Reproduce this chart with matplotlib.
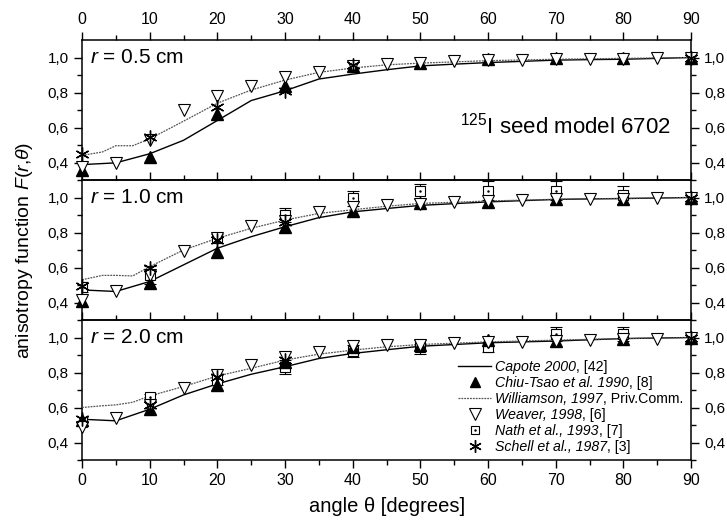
import numpy as np
import matplotlib
matplotlib.use("Agg")
import matplotlib.pyplot as plt
from matplotlib.lines import Line2D
from matplotlib.ticker import FixedLocator, MultipleLocator, FuncFormatter

plt.rcParams['font.family'] = ['Liberation Sans', 'DejaVu Sans']
plt.rcParams['mathtext.fontset'] = 'custom'
plt.rcParams['mathtext.rm'] = 'Liberation Sans'
plt.rcParams['mathtext.it'] = 'Liberation Sans:italic'

# radial distances of the three panels
radii = ["0.5", "1.0", "2.0"]

# Capote 2000 (solid line)
capote_theta = [0, 5, 10, 15, 20, 25, 30, 35, 40, 45, 50, 55, 60, 65, 70, 75, 80, 85, 90]
capote_05 = [0.388, 0.398, 0.45, 0.527, 0.64, 0.754, 0.81, 0.877, 0.905, 0.93, 0.952, 0.962,
             0.971, 0.978, 0.985, 0.988, 0.99, 0.995, 1.0]
capote_10 = [0.472, 0.463, 0.52, 0.615, 0.71, 0.776, 0.833, 0.885, 0.918, 0.937, 0.955, 0.965,
             0.975, 0.982, 0.989, 0.992, 0.994, 0.997, 1.0]
capote_20 = [0.533, 0.524, 0.59, 0.672, 0.735, 0.79, 0.833, 0.88, 0.909, 0.93, 0.95, 0.96,
             0.97, 0.975, 0.98, 0.987, 0.994, 0.997, 1.0]

# Williamson 1997 (dotted line)
will_theta = [0, 3, 5, 7.5, 10, 15, 20, 25, 30, 35, 40, 45, 50, 60, 70, 80, 90]
will_05 = [0.441, 0.46, 0.496, 0.496, 0.535, 0.636, 0.739, 0.814, 0.871, 0.915, 0.94, 0.958,
           0.968, 0.982, 0.99, 0.995, 1.0]
will_10 = [0.53, 0.555, 0.555, 0.552, 0.605, 0.70, 0.767, 0.824, 0.871, 0.909, 0.93, 0.95,
           0.966, 0.98, 0.99, 0.995, 1.0]
will_20 = [0.60, 0.61, 0.615, 0.63, 0.666, 0.72, 0.78, 0.824, 0.871, 0.905, 0.928, 0.947,
           0.96, 0.975, 0.985, 0.994, 1.0]

# Chiu-Tsao et al. 1990 (filled triangles)
chiu_theta = [0, 10, 20, 30, 40, 50, 60, 70, 80, 90]
chiu_05 = [0.356, 0.43, 0.68, 0.84, 0.95, 0.97, 0.99, 0.995, 0.995, 1.0]
chiu_10 = [0.41, 0.51, 0.69, 0.833, 0.924, 0.966, 0.975, 0.994, 0.99, 1.0]
chiu_20 = [0.53, 0.59, 0.73, 0.86, 0.947, 0.96, 0.985, 0.98, 0.99, 1.0]

# Weaver 1998 (open down triangles)
weaver_theta = [0, 5, 10, 15, 20, 25, 30, 35, 40, 45, 50, 55, 60, 65, 70, 75, 80, 85, 90]
weaver_05 = [0.375, 0.40, 0.527, 0.70, 0.78, 0.84, 0.886, 0.92, 0.953, 0.962, 0.97, 0.98,
             0.985, 0.987, 0.99, 0.99, 0.99, 0.995, 1.0]
weaver_10 = [0.416, 0.467, 0.56, 0.696, 0.767, 0.837, 0.865, 0.918, 0.947, 0.955, 0.962, 0.975,
             0.98, 0.985, 0.99, 0.992, 0.994, 0.995, 1.0]
weaver_20 = [0.488, 0.54, 0.615, 0.71, 0.786, 0.842, 0.886, 0.918, 0.95, 0.956, 0.956, 0.97,
             0.975, 0.975, 0.98, 0.985, 0.994, 0.994, 1.0]

# Nath et al. 1993 (open squares with error bars), no data at 0.5 cm
nath_theta = [0, 10, 20, 30, 40, 50, 60, 70, 80]
nath_10 = [0.488, 0.558, 0.767, 0.90, 0.995, 1.035, 1.04, 1.04, 1.015]
nath_10_err = [0.03, 0.05, 0.025, 0.04, 0.045, 0.045, 0.055, 0.055, 0.05]
nath_20 = [0.52, 0.658, 0.757, 0.833, 0.925, 0.945, 0.945, 1.02, 1.02]
nath_20_err = [0.025, 0.02, 0.03, 0.04, 0.035, 0.04, 0.03, 0.04, 0.04]

# Schell et al. 1987 (asterisks)
schell_theta = [0, 10, 20, 30, 40, 90]
schell_05 = [0.447, 0.545, 0.72, 0.81, 0.956, 1.0]
schell_theta_b = [0, 10, 20, 30, 90]
schell_10 = [0.495, 0.596, 0.76, 0.86, 1.0]
schell_20 = [0.533, 0.615, 0.776, 0.871, 1.0]

# legend: italic part, plain part
legend_names = ['Capote 2000', 'Chiu-Tsao et al. 1990', 'Williamson, 1997', 'Weaver, 1998',
                'Nath et al., 1993', 'Schell et al., 1987']
legend_refs = [', [42]', ', [8]', ', Priv.Comm.', ', [6]', ', [7]', ', [3]']

capote = [capote_05, capote_10, capote_20]
will = [will_05, will_10, will_20]
chiu = [chiu_05, chiu_10, chiu_20]
weaver = [weaver_05, weaver_10, weaver_20]
nath = [None, (nath_10, nath_10_err), (nath_20, nath_20_err)]
schell = [(schell_theta, schell_05), (schell_theta_b, schell_10), (schell_theta_b, schell_20)]

asterisk = (6, 2, 0)
wcol = '#555555'
wstyle = (0, (1.5, 0.8))

fig, axes = plt.subplots(3, 1, sharex=True, figsize=(7.27, 5.32), dpi=100,
                         gridspec_kw=dict(hspace=0))
fig.subplots_adjust(left=0.1128, right=0.9505, top=0.9248, bottom=0.1353)

comma = FuncFormatter(lambda v, p: ("%.1f" % v).replace('.', ','))

for i, ax in enumerate(axes):
    ax.set_facecolor('none')
    ax.plot(capote_theta, capote[i], color='black', lw=1.0, zorder=3)
    ax.plot(will_theta, will[i], color=wcol, lw=0.9, ls=wstyle, zorder=3)
    if nath[i] is not None:
        vals, err = nath[i]
        ax.errorbar(nath_theta, vals, yerr=err, fmt='s', ms=6.5, mfc='white', mec='black',
                    mew=0.8, ecolor='black', elinewidth=0.8, capsize=4, capthick=0.8, zorder=4)
        ax.plot(nath_theta, vals, '.', ms=1.5, color='black', zorder=5)
    ax.plot(chiu_theta, chiu[i], '^', ms=8, color='black', zorder=5, clip_on=False)
    ax.plot(weaver_theta, weaver[i], 'v', ms=9, mfc='white', mec='black', mew=0.8,
            zorder=6, clip_on=False)
    sx, sy = schell[i]
    ax.plot(sx, sy, ls='none', marker=asterisk, ms=10, mec='black', mew=1.0, zorder=7,
            clip_on=False)

    ax.set_xlim(0, 90)
    ax.set_ylim(0.3, 1.1)
    ax.xaxis.set_major_locator(MultipleLocator(10))
    ax.xaxis.set_minor_locator(MultipleLocator(5))
    ax.yaxis.set_major_locator(FixedLocator([0.4, 0.6, 0.8, 1.0]))
    ax.yaxis.set_minor_locator(FixedLocator([0.3, 0.5, 0.7, 0.9]))
    ax.yaxis.set_major_formatter(comma)
    ax.tick_params(axis='y', which='both', direction='out', left=True, right=True,
                   labelleft=True, labelright=True, labelsize=11, width=1.0)
    ax.tick_params(axis='y', which='major', length=6)
    ax.tick_params(axis='y', which='minor', length=3.5)
    ax.tick_params(axis='x', which='both', direction='out', labelsize=11.5, width=1.0)
    ax.tick_params(axis='x', which='major', length=6)
    ax.tick_params(axis='x', which='minor', length=3.5)
    for s in ax.spines.values():
        s.set_linewidth(1.1)

    ax.text(0.013, 1.0, r'$\it{r}$ = %s cm' % radii[i], transform=ax.get_yaxis_transform(),
            ha='left', va='center', fontsize=15)

# ticks on the panel boundaries point into the panel above
axes[0].tick_params(axis='x', which='both', top=True, bottom=False,
                    labeltop=True, labelbottom=False)
axes[1].tick_params(axis='x', which='both', top=True, bottom=False,
                    labeltop=False, labelbottom=False)
axes[2].tick_params(axis='x', which='both', top=True, bottom=True,
                    labeltop=False, labelbottom=True)

axes[0].text(0.62, 0.614, r'$^{125}$I seed model 6702', transform=axes[0].get_yaxis_transform(),
             ha='left', va='center', fontsize=16)

handles = [
    Line2D([], [], color='black', lw=1.0),
    Line2D([], [], ls='none', marker='^', ms=7, color='black'),
    Line2D([], [], color=wcol, lw=0.9, ls=wstyle),
    Line2D([], [], ls='none', marker='v', ms=8, mfc='white', mec='black', mew=0.8),
    (Line2D([], [], ls='none', marker='s', ms=6, mfc='white', mec='black', mew=0.8),
     Line2D([], [], ls='none', marker='.', ms=1.5, color='black')),
    Line2D([], [], ls='none', marker=asterisk, ms=9, mec='black', mew=1.0),
]
leg = axes[2].legend(handles, legend_names, loc='upper left', bbox_to_anchor=(0.618, 0.717),
                     frameon=False, prop=dict(size=10.2, style='italic'), handlelength=2.3,
                     handletextpad=0.3, labelspacing=0.15, borderpad=0, borderaxespad=0)
# plain-style reference right after each italic name (drawn after the legend)
for t, ref in zip(leg.get_texts(), legend_refs):
    axes[2].annotate(ref, xy=(1, 0), xycoords=t, ha='left', va='bottom', fontsize=10.2,
                     zorder=10)

fig.text(0.532, 1 - 507 / 532, r'angle θ [degrees]', ha='center', va='center', fontsize=14.5)
fig.text(0.034, 0.53, r'anisotropy function $\it{F}$($\it{r}$,$\it{θ}$)', rotation=90,
         ha='center', va='center', fontsize=14)

fig.savefig('out.png', dpi=100)
